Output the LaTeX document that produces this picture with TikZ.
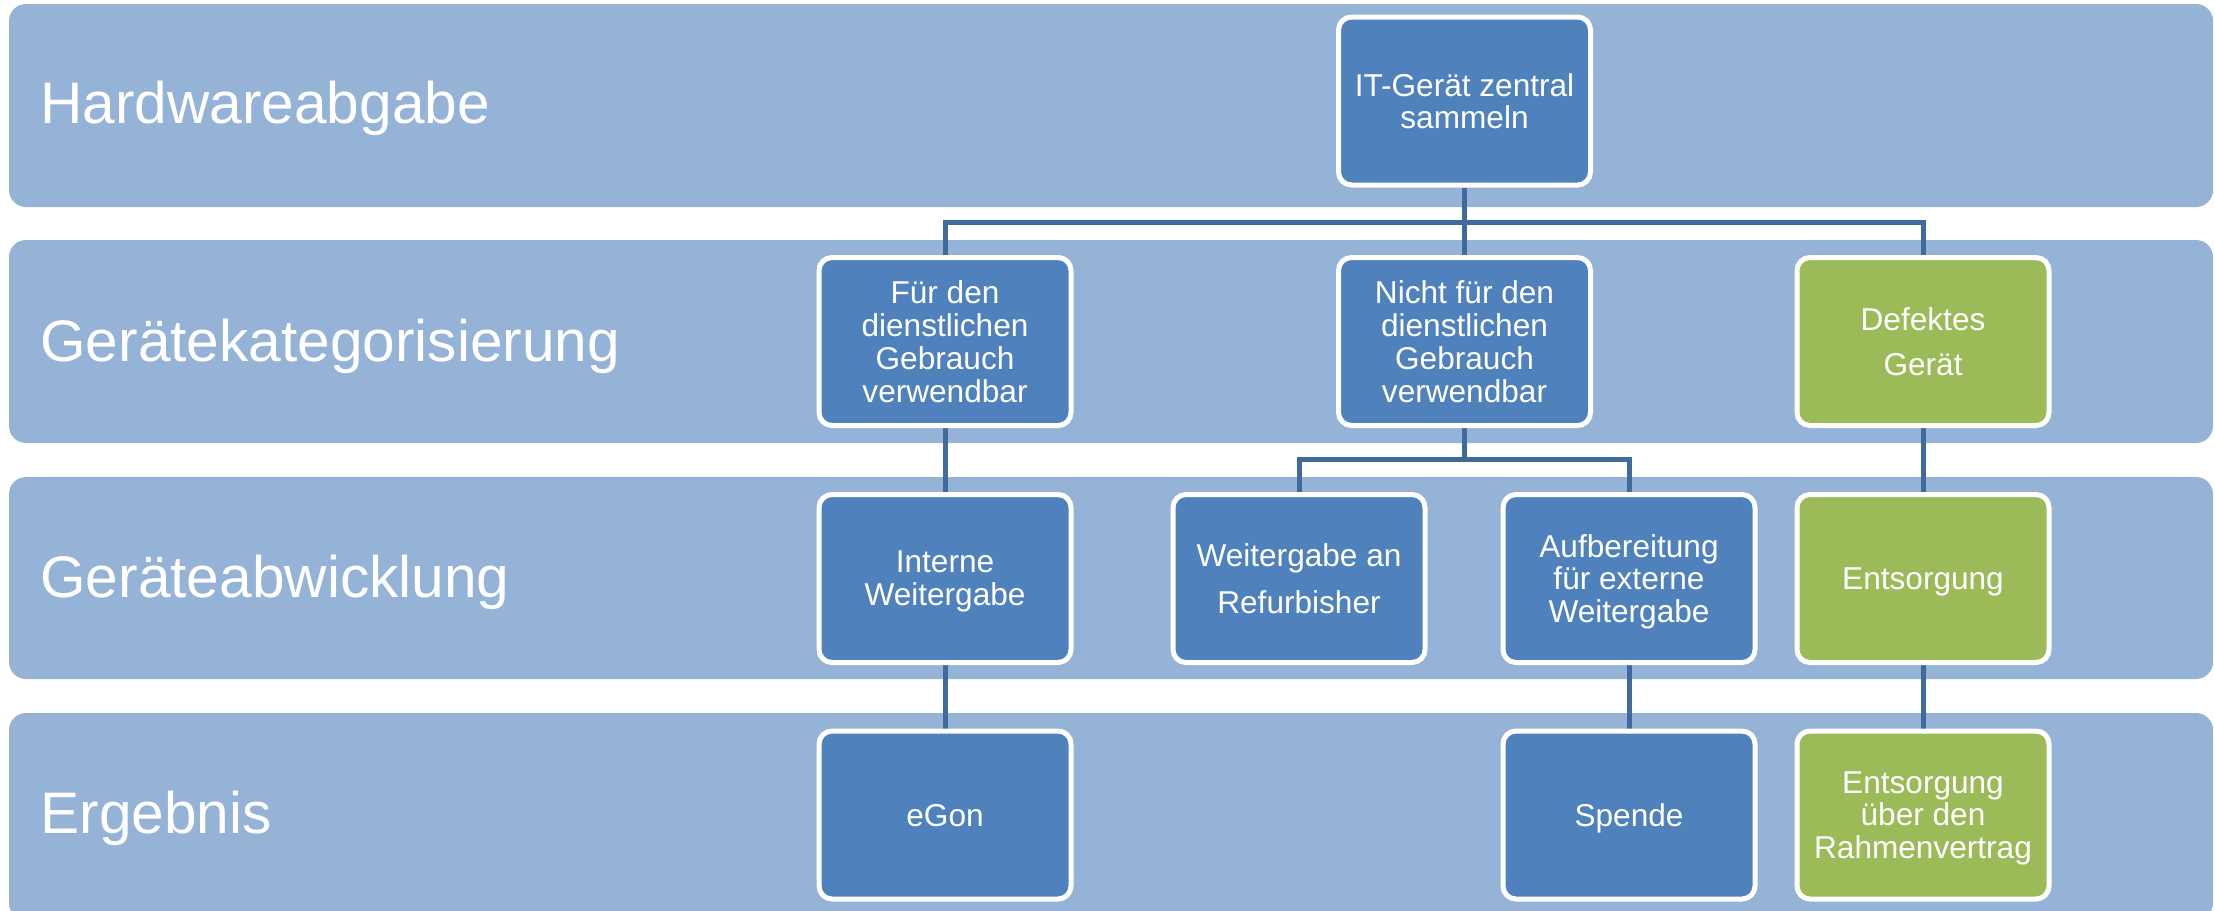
\documentclass[tikz,border=0pt]{standalone}
\usepackage{fontspec}
\setmainfont{Liberation Sans}
\definecolor{bandc}{HTML}{95B3D7}
\definecolor{boxblue}{HTML}{4F81BD}
\definecolor{boxgreen}{HTML}{9BBB59}
\definecolor{connc}{HTML}{40699C}
\pgfdeclarelayer{bandlayer}
\pgfdeclarelayer{connlayer}
\pgfsetlayers{bandlayer,connlayer,main}
\tikzset{
  band/.style={fill=bandc, draw=none, rounded corners=8.5pt},
  bandlabel/.style={anchor=base west, text=white, inner sep=0pt, font=\fontsize{29.3}{32}\selectfont},
  procbox/.style={draw=white, line width=2.5pt, rounded corners=6.5pt, minimum width=126pt, minimum height=84pt,
     inner sep=0pt, align=center, text=white, text depth=0pt, font=\fontsize{15.8}{16.4}\selectfont},
  bluebox/.style={procbox, fill=boxblue},
  greenbox/.style={procbox, fill=boxgreen},
  conn/.style={draw=connc, line width=2.5pt}
}
\begin{document}
\begin{tikzpicture}[x=0.5pt,y=-0.5pt]
\useasboundingbox (0,0) rectangle (2215,910);
% bands
\begin{pgfonlayer}{bandlayer}
\fill[band] (9,4) rectangle (2213,207);
\fill[band] (9,240) rectangle (2213,443);
\fill[band] (9,477) rectangle (2213,679);
\fill[band] (9,713) rectangle (2213,920);
\end{pgfonlayer}
\node[bandlabel] (l1) at (40,123) {Hardwareabgabe};
\node[bandlabel] (l2) at (40,361) {Gerätekategorisierung};
\node[bandlabel] (l3) at (40,597) {Geräteabwicklung};
\node[bandlabel] (l4) at (40,833) {Ergebnis};
% boxes
\node[bluebox] (it) at (1464.5,101) {IT-Gerät zentral\\sammeln};
\node[bluebox] (fur) at (945,341.5) {Für den\\dienstlichen\\Gebrauch\\verwendbar};
\node[bluebox] (nicht) at (1464.5,341.5) {Nicht für den\\dienstlichen\\Gebrauch\\verwendbar};
\node[greenbox] (def) at (1923,341.5) {Defektes\\[6.5pt]Gerät};
\node[bluebox] (int) at (945,578.5) {Interne\\Weitergabe};
\node[bluebox] (wr) at (1299,578.5) {Weitergabe an\\[7pt]Refurbisher};
\node[bluebox] (auf) at (1629,578.5) {Aufbereitung\\für externe\\Weitergabe};
\node[greenbox] (ents) at (1923,578.5) {Entsorgung};
\node[bluebox] (egon) at (945,815) {eGon};
\node[bluebox] (spende) at (1629,815) {Spende};
\node[greenbox] (entsr) at (1923,815) {Entsorgung\\über den\\Rahmenvertrag};
\coordinate (bus1) at (1464.5,222);
\coordinate (bus2) at (1464.5,459);
% connectors (behind boxes)
\begin{pgfonlayer}{connlayer}
\draw[conn] (it.south) -- (nicht.north);
\draw[conn] (fur.north) -- (fur.north |- bus1) -- (def.north |- bus1) -- (def.north);
\draw[conn] (nicht.south) -- (bus2);
\draw[conn] (wr.north) -- (wr.north |- bus2) -- (auf.north |- bus2) -- (auf.north);
\draw[conn] (fur.south) -- (int.north);
\draw[conn] (int.south) -- (egon.north);
\draw[conn] (auf.south) -- (spende.north);
\draw[conn] (def.south) -- (ents.north);
\draw[conn] (ents.south) -- (entsr.north);
\end{pgfonlayer}
\end{tikzpicture}
\end{document}
